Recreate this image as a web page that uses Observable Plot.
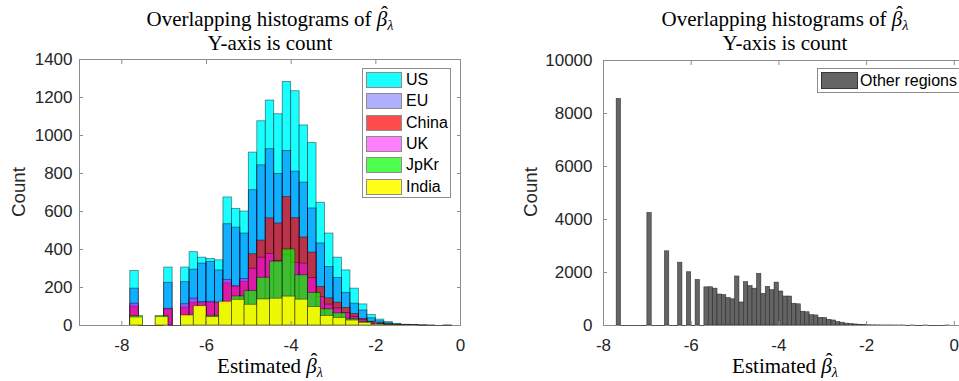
<!DOCTYPE html>
<html>
<head>
<meta charset="utf-8">
<script src="https://cdn.jsdelivr.net/npm/d3@7"></script>
<script src="https://cdn.jsdelivr.net/npm/@observablehq/plot@0.6"></script>
<style>
  html, body { margin: 0; padding: 0; background: #fff; }
  #wrap { position: relative; width: 959px; height: 381px; overflow: hidden; background: #fff; }
  .panel { position: absolute; top: 0; }
  .title, .xlab { position: absolute; font-family: "Liberation Serif", "Times New Roman", serif; font-size: 21px; line-height: 24px; color: #000; white-space: nowrap; transform: translateX(-50%); text-align: center; }
  .ylab { position: absolute; font-family: "Liberation Sans", Arial, sans-serif; font-size: 18.7px; line-height: 20px; color: #262626; white-space: nowrap; transform: translate(-50%, -50%) rotate(-90deg); }
  .legend { position: absolute; background: #fff; border: 1px solid #8c8c8c; box-sizing: border-box; font-family: "Liberation Sans", Arial, sans-serif; font-size: 16px; color: #000; }
  .sw { position: absolute; box-sizing: border-box; border: 1px solid rgba(0,0,0,0.45); }
  .lt { position: absolute; line-height: 18px; white-space: nowrap; }
  .hat { position: relative; display: inline-block; font-style: italic; }
  .hat::after { content: "\02C6"; position: absolute; left: 0.2em; top: -0.22em; font-style: normal; }
  sub { font-size: 0.68em; line-height: 0; vertical-align: -0.3em; font-style: italic; }
</style>
</head>
<body>
<div id="wrap"></div>
<script>
// ---------- data ----------
const xTicks = [-8, -6, -4, -2, 0];
const leftYTicks = [0, 200, 400, 600, 800, 1000, 1200, 1400];
const rightYTicks = [0, 2000, 4000, 6000, 8000, 10000];

// 0.2-wide bins starting at -7.8 (US, EU, China, UK)
const fineStart = -7.8, fineWidth = 0.2;
const usCounts    = [287,0,0,0,305,0,305,386,357,350,343,674,614,600,910,1075,1184,1112,1282,1233,1053,960,646,484,357,290,194,111,55,31,18,9,4,2,1,1,0,1];
const euCounts    = [194,0,0,0,225,0,228,294,326,335,290,533,515,484,712,843,928,798,919,810,752,616,432,308,250,172,115,79,38,22,12,6,3,1,1,0,0,0];
const chinaCounts = [100,0,0,0,85,0,95,120,118,120,118,222,205,230,375,447,564,537,676,565,463,384,202,143,120,92,60,35,20,12,7,3,2,1,0,0,0,0];
const ukCounts    = [115,0,0,0,88,0,112,142,123,125,121,240,206,244,299,357,377,340,370,330,326,250,150,110,90,66,45,28,16,10,5,2,1,1,0,0,0,0];

// 0.3-wide bins starting at -7.8 (JpKr, India)
const coarseStart = -7.8, coarseWidth = 0.3;
const jpkrCounts  = [50,0,50,0,48,95,51,115,153,181,251,336,400,264,171,85,64,33,18,6,2,1];
const indiaCounts = [42,0,44,0,53,102,44,125,135,109,137,141,152,136,97,50,40,26,14,5,2,1];

// 0.1-wide bins starting at -7.7 (Other regions)
const otherStart = -7.7, otherWidth = 0.1;
const otherCounts = [8550,0,0,0,0,0,0,4250,0,0,0,2800,0,0,2370,0,2010,0,1720,0,
  1440,1445,1390,1170,1150,1035,990,1850,870,1635,1490,1390,1950,1195,1460,1335,1620,1283,1094,1094,
  820,800,520,500,390,380,290,285,215,190,130,105,70,55,40,28,16,10,6,4,
  3,2,2,1,1,1,0,1,0,0,1,0,0,0,0,1];

const regionNames  = ["US", "EU", "China", "UK", "JpKr", "India"];
const regionCounts = [usCounts, euCounts, chinaCounts, ukCounts, jpkrCounts, indiaCounts];
const regionStart  = [fineStart, fineStart, fineStart, fineStart, coarseStart, coarseStart];
const regionWidth  = [fineWidth, fineWidth, fineWidth, fineWidth, coarseWidth, coarseWidth];

// ---------- styles ----------
const regionColors = ["#00ffff", "#0000ff", "#ff0000", "#ff00ff", "#00ff00", "#ffff00"];
const regionAlphas = [0.9, 0.31, 0.7, 0.5, 0.7, 0.9];
const otherColor = "#646464";
const axisGray = "#8c8c8c";
const textGray = "#262626";

function bins(counts, start, width) {
  return counts.map((c, i) => ({x1: start + i * width, x2: start + (i + 1) * width, count: c}));
}
function fmt(d) { return String(d); }

const baseStyle = {fontFamily: "'Liberation Sans', Arial, sans-serif", fontSize: "17px", color: textGray, background: "transparent", overflow: "visible"};

function axes(yTicks, yPad) {
  return [
    Plot.frame({stroke: axisGray}),
    Plot.axisX({anchor: "bottom", ticks: xTicks, tickFormat: fmt, tickSize: -4, tickPadding: 17, stroke: axisGray, fill: textGray, label: null}),
    Plot.axisX({anchor: "top", ticks: xTicks, tickSize: -4, stroke: axisGray, fill: "none", label: null}),
    Plot.axisY({anchor: "left", ticks: yTicks, tickFormat: fmt, tickSize: -4, tickPadding: yPad, stroke: axisGray, fill: textGray, label: null}),
    Plot.axisY({anchor: "right", ticks: yTicks, tickSize: -4, stroke: axisGray, fill: "none", label: null})
  ];
}

// ---------- left panel ----------
const leftBars = regionNames.map((name, k) =>
  Plot.rectY(bins(regionCounts[k], regionStart[k], regionWidth[k]).filter(d => d.count > 0), {
    x1: "x1", x2: "x2", y: "count",
    fill: regionColors[k], fillOpacity: regionAlphas[k],
    stroke: "#000", strokeOpacity: 0.5, strokeWidth: 0.8
  }));
const leftZeros = regionNames.flatMap((name, k) => bins(regionCounts[k], regionStart[k], regionWidth[k]).filter(d => d.count === 0));

const leftPlot = Plot.plot({
  width: 480, height: 381,
  marginLeft: 79, marginRight: 20, marginTop: 59, marginBottom: 56,
  x: {domain: [-9, 0], label: null},
  y: {domain: [0, 1400], label: null},
  style: baseStyle,
  marks: [
    ...leftBars,
    ...axes(leftYTicks, 11),
    Plot.ruleY(leftZeros, {x1: "x1", x2: "x2", y: () => 0, stroke: "#555", strokeWidth: 1})
  ]
});

// ---------- right panel ----------
const otherBins = bins(otherCounts, otherStart, otherWidth);
const rightPlot = Plot.plot({
  width: 497, height: 381,
  marginLeft: 123, marginRight: 10, marginTop: 60, marginBottom: 56,
  x: {domain: [-8, 0.3], label: null},
  y: {domain: [0, 10000], label: null},
  style: baseStyle,
  marks: [
    Plot.rectY(otherBins.filter(d => d.count > 0), {x1: "x1", x2: "x2", y: "count", fill: otherColor, stroke: "#1e1e1e", strokeOpacity: 0.8, strokeWidth: 0.6}),
    ...axes(rightYTicks, 15),
    Plot.ruleY(otherBins.filter(d => d.count === 0), {x1: "x1", x2: "x2", y: () => 0, stroke: "#555", strokeWidth: 1})
  ]
});

// ---------- assemble ----------
const wrap = document.getElementById("wrap");
function place(el, left) { el.classList.add("panel"); el.style.left = left + "px"; wrap.appendChild(el); }
place(leftPlot, 0);
place(rightPlot, 480);

const betaHat = '<span class="hat">β</span><sub>λ</sub>';
function addDiv(cls, html, x, y) {
  const d = document.createElement("div");
  d.className = cls; d.innerHTML = html;
  d.style.left = x + "px"; d.style.top = y + "px";
  wrap.appendChild(d);
  return d;
}
// titles
addDiv("title", "Overlapping histograms of " + betaHat + "<br>Y-axis is count", 270, 7);
addDiv("title", "Overlapping histograms of " + betaHat + "<br>Y-axis is count", 785, 7);
// x labels
addDiv("xlab", "Estimated " + betaHat, 270, 354);
addDiv("xlab", "Estimated " + betaHat, 785, 354);
// y labels
addDiv("ylab", "Count", 19, 192);
addDiv("ylab", "Count", 531, 192);

// left legend
const lg = document.createElement("div");
lg.className = "legend";
Object.assign(lg.style, {left: "362px", top: "68px", width: "89px", height: "130px"});
regionNames.forEach((name, k) => {
  const sw = document.createElement("div");
  sw.className = "sw";
  Object.assign(sw.style, {left: "3px", top: (3 + k * 21.3) + "px", width: "36px", height: "16px", background: "#fff"});
  const fillDiv = document.createElement("div");
  Object.assign(fillDiv.style, {position: "absolute", inset: "0", background: regionColors[k], opacity: regionAlphas[k]});
  sw.appendChild(fillDiv);
  const t = document.createElement("div");
  t.className = "lt"; t.textContent = name;
  Object.assign(t.style, {left: "43px", top: (2 + k * 21.3) + "px"});
  lg.appendChild(sw); lg.appendChild(t);
});
wrap.appendChild(lg);

// right legend
const lg2 = document.createElement("div");
lg2.className = "legend";
Object.assign(lg2.style, {left: "817px", top: "68px", width: "150px", height: "25px"});
const sw2 = document.createElement("div");
sw2.className = "sw";
Object.assign(sw2.style, {left: "3px", top: "3px", width: "37px", height: "17px", background: otherColor});
const t2 = document.createElement("div");
t2.className = "lt"; t2.textContent = "Other regions";
Object.assign(t2.style, {left: "42px", top: "3px"});
lg2.appendChild(sw2); lg2.appendChild(t2);
wrap.appendChild(lg2);
</script>
</body>
</html>
